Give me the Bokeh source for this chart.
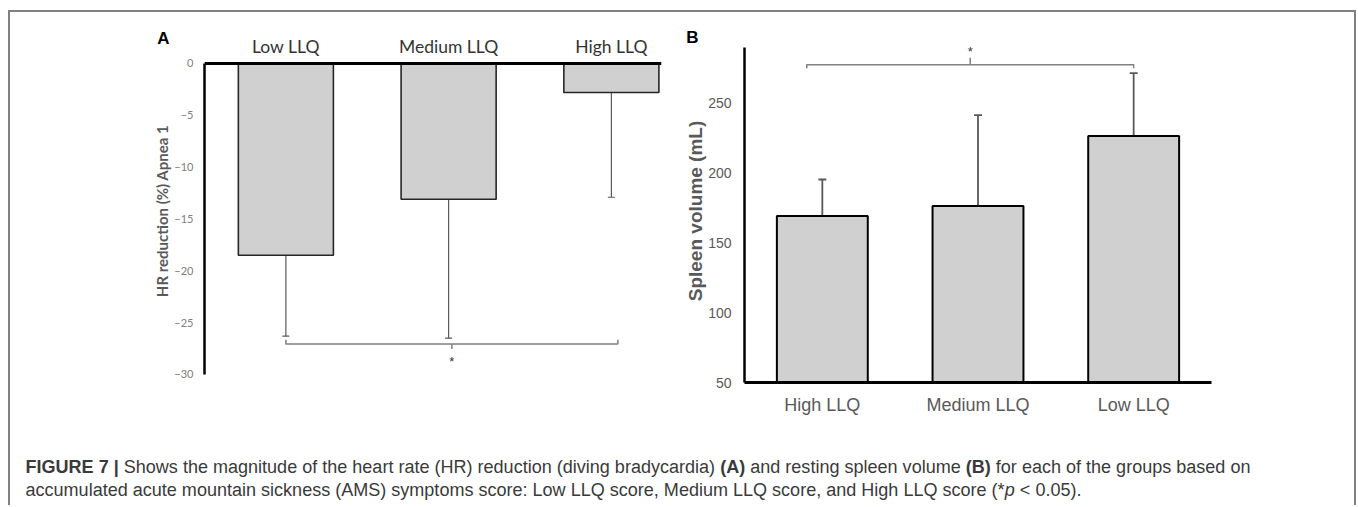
from bokeh.plotting import figure
from bokeh.models import (Range1d, FixedTicker, ColumnDataSource, Whisker, TeeHead,
                          Label, Spacer)
from bokeh.layouts import row, column
from bokeh.core.properties import value
from bokeh.embed import file_html
from bokeh.resources import INLINE

# ---------------- data ----------------
groups_a = ["Low LLQ", "Medium LLQ", "High LLQ"]
hr_mean = [-18.5, -13.1, -2.8]
hr_sd = [7.8, 13.4, 10.1]
hr_ticks = [0, -5, -10, -15, -20, -25, -30]

groups_b = ["High LLQ", "Medium LLQ", "Low LLQ"]
spleen_mean = [169, 176, 226]
spleen_sd = [26, 65, 45]
spleen_ticks = [50, 100, 150, 200, 250]

caption_line1 = [("FIGURE 7 | ", "bold"),
                 ("Shows the magnitude of the heart rate (HR) reduction (diving bradycardia) ", "normal"),
                 ("(A)", "bold"),
                 (" and resting spleen volume ", "normal"),
                 ("(B)", "bold"),
                 (" for each of the groups based on", "normal")]
caption_line2 = [("accumulated acute mountain sickness (AMS) symptoms score: Low LLQ score, "
                  "Medium LLQ score, and High LLQ score (*", "normal"),
                 ("p", "italic"),
                 (" < 0.05).", "normal")]

# ---------------- style ----------------
BAR_FILL = "#d0d0d0"
BORDER = "#808080"
GREY_TXT = "#595959"
CAP_TXT = "#3a3a3a"
ROW_H = 420
TOP_B = 27
BOT_B = 50

# ---------------- panel A ----------------
xa = [i + 0.5 for i in range(len(groups_a))]
src_a = ColumnDataSource(dict(x=xa, mean=hr_mean,
                              low=[m - s for m, s in zip(hr_mean, hr_sd)]))
pa = figure(width=672, height=ROW_H, x_range=Range1d(0, 2.808),
            y_range=Range1d(-30.772, 2.315),
            x_axis_location="above", title_location=None,
            output_backend="svg", toolbar_location=None,
            min_border_left=194, min_border_right=21, min_border_top=TOP_B,
            min_border_bottom=BOT_B)
pa.outline_line_color = None
pa.grid.grid_line_color = None
pa.vbar(x="x", top=0, bottom="mean", width=0.584, source=src_a,
        fill_color=BAR_FILL, line_color="#262626", line_width=1.6)
pa.add_layout(Whisker(base="x", upper="mean", lower="low", source=src_a, dimension="height",
                      line_color=GREY_TXT, line_width=1.2, upper_head=None,
                      lower_head=TeeHead(size=7, line_color=GREY_TXT, line_width=1.2)))
xax = pa.xaxis[0]
xax.fixed_location = 0
xax.ticker = FixedTicker(ticks=xa)
xax.major_label_overrides = {x: g for x, g in zip(xa, groups_a)}
xax.major_tick_line_color = None
xax.minor_tick_line_color = None
xax.major_tick_out = 0
xax.major_tick_in = 0
xax.axis_line_width = 3
xax.axis_line_color = "black"
xax.major_label_text_font = "Lato"
xax.major_label_text_font_size = "17.5px"
xax.major_label_text_color = "#333333"
xax.major_label_standoff = 6
yax = pa.yaxis[0]
yax.bounds = (hr_ticks[-1], hr_ticks[0])
yax.ticker = FixedTicker(ticks=hr_ticks)
yax.major_tick_line_color = None
yax.minor_tick_line_color = None
yax.major_tick_out = 0
yax.major_tick_in = 0
yax.axis_line_width = 2.5
yax.axis_line_color = "black"
yax.major_label_text_font = "Lato"
yax.major_label_text_font_size = "11px"
yax.major_label_text_color = "#808080"
yax.major_label_standoff = 11
yax.axis_label = "HR reduction (%) Apnea 1"
yax.axis_label_text_font = "Lato"
yax.axis_label_text_font_style = "bold"
yax.axis_label_text_font_size = "15px"
yax.axis_label_text_color = GREY_TXT
yax.axis_label_standoff = 0

# significance bracket A (Low vs High)
bay = -27.05
bx0, bx1, bxm = xa[0], xa[2] + 0.04, 1.52
pa.line(x=[bx0, bx0, bx1, bx1], y=[bay + 0.4, bay, bay, bay + 0.4],
        line_color="#808080", line_width=1.5)
pa.segment(x0=[bxm], y0=[bay], x1=[bxm], y1=[bay - 0.5], line_color="#808080", line_width=1.5)
pa.add_layout(Label(x=bxm, y=-28.7, text="*", text_align="center", text_baseline="middle",
                    text_font="Liberation Sans", text_font_size="13px", text_color="#333333"))
pa.add_layout(Label(x=-0.252, y=2.41, text="A", text_align="center", text_baseline="middle",
                    text_font="Liberation Sans", text_font_style="bold",
                    text_font_size="17px", text_color="black"), "left")

# ---------------- panel B ----------------
xb = [i + 0.5 for i in range(len(groups_b))]
src_b = ColumnDataSource(dict(x=xb, mean=spleen_mean,
                              high=[m + s for m, s in zip(spleen_mean, spleen_sd)]))
pb = figure(width=672, height=ROW_H, x_range=Range1d(0, 3), y_range=Range1d(50, 295),
            title_location=None, output_backend="svg", toolbar_location=None,
            min_border_left=62, min_border_right=143, min_border_top=TOP_B,
            min_border_bottom=BOT_B)
pb.outline_line_color = None
pb.grid.grid_line_color = None
pb.vbar(x="x", top="mean", bottom=spleen_ticks[0], width=0.584, source=src_b,
        fill_color=BAR_FILL, line_color="black", line_width=2)
pb.add_layout(Whisker(base="x", upper="high", lower="mean", source=src_b, dimension="height",
                      line_color=GREY_TXT, line_width=1.8, lower_head=None,
                      upper_head=TeeHead(size=8, line_color=GREY_TXT, line_width=1.8)))
xbx = pb.xaxis[0]
xbx.ticker = FixedTicker(ticks=xb)
xbx.major_label_overrides = {x: g for x, g in zip(xb, groups_b)}
xbx.major_tick_line_color = None
xbx.minor_tick_line_color = None
xbx.major_tick_out = 0
xbx.major_tick_in = 0
xbx.axis_line_width = 3
xbx.axis_line_color = "black"
xbx.major_label_text_font = "Liberation Sans"
xbx.major_label_text_font_size = "18px"
xbx.major_label_text_color = GREY_TXT
xbx.major_label_standoff = 12
ybx = pb.yaxis[0]
ybx.bounds = (spleen_ticks[0], 289.3)
ybx.ticker = FixedTicker(ticks=spleen_ticks)
ybx.major_tick_line_color = None
ybx.minor_tick_line_color = None
ybx.major_tick_out = 0
ybx.major_tick_in = 0
ybx.axis_line_width = 2.5
ybx.axis_line_color = "black"
ybx.major_label_text_font = "Liberation Sans"
ybx.major_label_text_font_size = "14px"
ybx.major_label_text_color = GREY_TXT
ybx.major_label_standoff = 13
ybx.axis_label = "Spleen volume (mL)"
ybx.axis_label_text_font = "Liberation Sans"
ybx.axis_label_text_font_style = "bold"
ybx.axis_label_text_font_size = "19px"
ybx.axis_label_text_color = GREY_TXT
ybx.axis_label_standoff = -1

# significance bracket B (High vs Low)
bby = 277
cx0, cx1, cxm = xb[0] - 0.1, xb[2], 1.45
pb.line(x=[cx0, cx0, cx1, cx1], y=[bby - 2.5, bby, bby, bby - 2.5],
        line_color="#808080", line_width=1.5)
pb.segment(x0=[cxm], y0=[bby], x1=[cxm], y1=[bby + 5], line_color="#808080", line_width=1.5)
pb.add_layout(Label(x=cxm, y=286.5, text="*", text_align="center", text_baseline="middle",
                    text_font="Liberation Sans", text_font_size="13px", text_color="#333333"),
              "right")
pb.add_layout(Label(x=-0.334, y=296.4, text="B", text_align="center", text_baseline="middle",
                    text_font="Liberation Sans", text_font_style="bold",
                    text_font_size="17px", text_color="black"), "above")

# ---------------- caption ----------------
AR = {' ': 278, '!': 278, '(': 333, ')': 333, '*': 389, ',': 278, '-': 333, '.': 278,
      ':': 278, '<': 584, '|': 260, '%': 889}
for c in "0123456789":
    AR[c] = 556
AR.update(dict(A=667, B=667, C=722, D=722, E=667, F=611, G=778, H=722, I=278, J=500, K=667,
               L=556, M=833, N=722, O=778, P=667, Q=778, R=722, S=667, T=611, U=722, V=667,
               W=944, X=667, Y=667, Z=611))
AR.update(dict(a=556, b=556, c=500, d=556, e=556, f=278, g=556, h=556, i=222, j=222, k=500,
               l=222, m=833, n=556, o=556, p=556, q=556, r=333, s=500, t=278, u=556, v=500,
               w=722, x=500, y=500, z=500))
AB = dict(AR)
AB.update({' ': 278, '(': 333, ')': 333, '|': 280, '7': 556, 'A': 722, 'B': 722, 'E': 667,
           'F': 611, 'G': 778, 'I': 278, 'R': 722, 'U': 722})


def em_width(s, style):
    tab = AB if style == "bold" else AR
    return sum(tab.get(ch, 556) for ch in s) / 1000.0


INNER_W = 1344
CAP_H = 73
cap_x0 = 15
line1_em = sum(em_width(t, st) for t, st in caption_line1)
cap_size = 1225.0 / line1_em

pc = figure(width=INNER_W, height=CAP_H, x_range=Range1d(0, INNER_W), y_range=Range1d(CAP_H, 0),
            x_axis_location=None, y_axis_location=None, title_location=None,
            output_backend="svg", toolbar_location=None, min_border=0)
pc.outline_line_color = None
pc.grid.visible = False

for segs, ly in ((caption_line1, 34), (caption_line2, 57)):
    xpos = cap_x0
    for t, st in segs:
        lead = len(t) - len(t.lstrip(" "))
        sx = xpos + em_width(" " * lead, st) * cap_size
        pc.text(x=[sx], y=[ly], text=[t.strip(" ")], text_align="left", text_baseline="middle",
                text_font=value("Liberation Sans"), text_font_size=f"{cap_size:.2f}px",
                text_font_style=st, text_color=CAP_TXT)
        xpos += em_width(t, st) * cap_size

# ---------------- layout with frame border ----------------
inner = column(row(pa, pb), pc)
inner_h = ROW_H + CAP_H
frame_box = column(
    Spacer(width=INNER_W + 4, height=2, styles={"background-color": BORDER}),
    row(Spacer(width=2, height=inner_h, styles={"background-color": BORDER}),
        inner,
        Spacer(width=2, height=inner_h, styles={"background-color": BORDER})))
page = column(Spacer(width=INNER_W + 12, height=10),
              row(Spacer(width=8, height=inner_h + 2), frame_box))

open("out.html", "w").write(file_html(page, INLINE))
